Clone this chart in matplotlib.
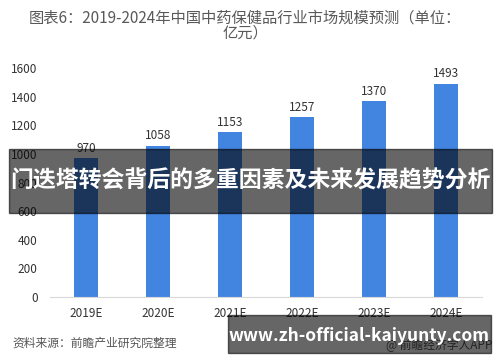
import numpy as np
import matplotlib.pyplot as plt
from matplotlib.patches import Rectangle

plt.rcParams['font.family'] = ['Noto Sans CJK SC', 'DejaVu Sans']

# data
years = ['2019E', '2020E', '2021E', '2022E', '2023E', '2024E']
market_size = [970, 1058, 1153, 1257, 1370, 1493]
y_ticks = [0, 200, 400, 600, 800, 1000, 1200, 1400, 1600]

title_text = '图表6：2019-2024年中国中药保健品行业市场规模预测（单位：\n亿元）'
overlay_text = '门迭塔转会背后的多重因素及未来发展趋势分析'
url_text = 'www.zh-official-kaiyunty.com'
source_text = '资料来源：前瞻产业研究院整理'
brand_text = '@ 前瞻经济学人APP'

fig = plt.figure(figsize=(5, 3.62), dpi=100)
ax = fig.add_axes([0.1, 0.1796, 0.864, 0.632])

x = np.arange(len(years))
ax.bar(x, market_size, width=0.32, color='#4285e0', zorder=2)
for xi, v in zip(x, market_size):
    ax.text(xi, v + 25, str(v), ha='center', va='bottom', fontsize=8.5, color='#333333')

ax.set_xlim(-0.5, len(years) - 0.5)
ax.set_ylim(0, 1600)
ax.set_yticks(y_ticks)
ax.set_xticks(x)
ax.set_xticklabels(years)
ax.tick_params(axis='both', length=0, labelsize=8.5, colors='#333333')
ax.tick_params(axis='x', pad=7)
ax.tick_params(axis='y', pad=9)
for s in ['top', 'right', 'left']:
    ax.spines[s].set_visible(False)
ax.spines['bottom'].set_color('#d9d9d9')

# title
fig.text(0.49, 0.975, title_text, ha='center', va='top', fontsize=11,
         color='#595959', linespacing=0.9)

# source + brand
fig.text(0.024, 0.052, source_text, fontsize=8.5, color='#555555', style='italic',
         ha='left', va='center')
fig.text(0.985, 0.045, brand_text, fontsize=8.5, color='#555555', ha='right', va='center')

# dark overlay band
fig.patches.append(Rectangle((0.018, 1 - 213 / 362), 0.966, 64 / 362,
                             transform=fig.transFigure, color='black', alpha=0.6,
                             zorder=5))
fig.text(0.5, 1 - 181 / 362, overlay_text, ha='center', va='center', fontsize=16.5,
         fontweight='bold', color='white', zorder=6)

# url band
fig.patches.append(Rectangle((228 / 500, 1 - 353 / 362), 263 / 500, 38 / 362,
                             transform=fig.transFigure, color='black', alpha=0.6,
                             zorder=5))
fig.text(359.5 / 500, 1 - 336 / 362, url_text, ha='center', va='center', fontsize=12.5,
         fontweight='bold', color='white', zorder=6)

fig.savefig('out.png', dpi=100)
